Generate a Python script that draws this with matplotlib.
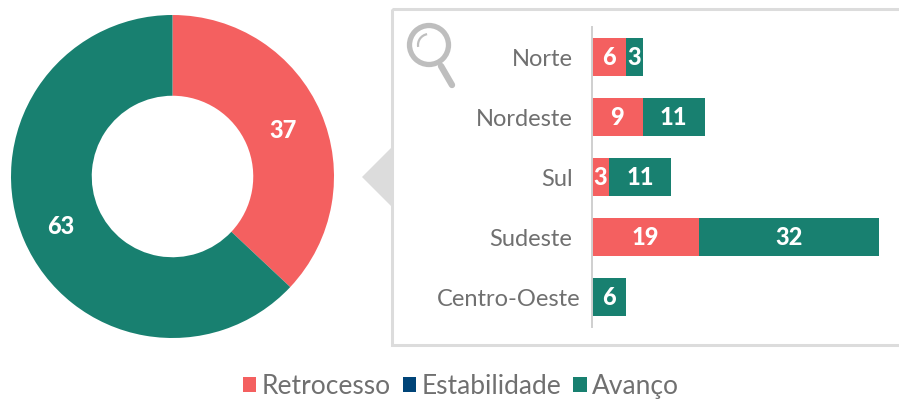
import matplotlib
matplotlib.use("Agg")
import matplotlib.pyplot as plt
from matplotlib.patches import Arc, Circle, Polygon, Rectangle
from matplotlib.lines import Line2D
from matplotlib.transforms import ScaledTranslation

plt.rcParams["font.family"] = ["Lato", "DejaVu Sans"]

RED = "#F46060"
NAVY = "#004478"
GREEN = "#188070"
GRAY = "#707070"
LIGHT = "#DCDCDC"
ICON = "#BEBEBE"

donut_labels = ["Retrocesso", "Avanço"]
donut_values = [37, 63]

regions = ["Norte", "Nordeste", "Sul", "Sudeste", "Centro-Oeste"]
retrocesso = [6, 9, 3, 19, 0]
avanco = [3, 11, 11, 32, 6]

legend_labels = ["Retrocesso", "Estabilidade", "Avanço"]
legend_colors = [RED, NAVY, GREEN]

W, H = 899, 400
fig = plt.figure(figsize=(W / 100, H / 100), dpi=100)


def px_axes(x0, y0, x1, y1):
    return fig.add_axes([x0 / W, 1 - y1 / H, (x1 - x0) / W, (y1 - y0) / H])


# overlay for panel frame and pointer, in pixel coords
bg = fig.add_axes([0, 0, 1, 1])
bg.set_xlim(0, W)
bg.set_ylim(H, 0)
bg.axis("off")
bg.add_patch(Rectangle((391.5, 8.5), 520, 336.5, fill=False, ec=LIGHT, lw=2.2))
bg.add_patch(Polygon([[392, 147], [392, 207], [362, 177]], fc=LIGHT, ec="none"))

# magnifier icon
bg.add_patch(Circle((429, 45), 19.5, fill=False, ec=ICON, lw=3.8))
bg.add_line(Line2D([441, 452], [66, 85], color=ICON, lw=4.6, solid_capstyle="round"))
bg.add_patch(Arc((429, 45), 22, 22, theta1=170, theta2=260, ec=ICON, lw=1.6))

# donut
ax = px_axes(11, 15, 334, 338)
ax.pie(donut_values, colors=[RED, GREEN], startangle=90, counterclock=False,
       radius=1, wedgeprops=dict(width=0.5, linewidth=0))
ax.set_xlim(-1, 1)
ax.set_ylim(-1, 1)
ax.text(0.684, 0.285, str(donut_values[0]), color="white", fontsize=17, fontweight="black",
        ha="center", va="center")
ax.text(-0.69, -0.31, str(donut_values[1]), color="white", fontsize=17, fontweight="black",
        ha="center", va="center")

# stacked bars
bx = px_axes(592, 27, 892, 327)
y = list(range(len(regions)))
bx.barh(y, retrocesso, height=0.63, color=RED, linewidth=0)
bx.barh(y, avanco, left=retrocesso, height=0.63, color=GREEN, linewidth=0)
bx.set_xlim(0, 300 / 5.63)
bx.set_ylim(4.5, -0.5)
bx.set_yticks(y)
bx.set_yticklabels(regions, fontsize=17, color=GRAY)
bx.tick_params(axis="y", length=0, pad=14)
bx.xaxis.set_visible(False)
for s in ["top", "right", "bottom"]:
    bx.spines[s].set_visible(False)
bx.spines["left"].set_color("#CFCFCF")
bx.spines["left"].set_linewidth(1.4)
bx.patch.set_alpha(0)

# Centro-Oeste sits closer to the axis than the other labels
last = bx.get_yticklabels()[-1]
last.set_transform(last.get_transform() + ScaledTranslation(8 / 100, 0, fig.dpi_scale_trans))

for i in y:
    if retrocesso[i]:
        bx.text(retrocesso[i] / 2, i + 0.01, str(retrocesso[i]), color="white", fontsize=17,
                fontweight="black", ha="center", va="center")
    bx.text(retrocesso[i] + avanco[i] / 2, i + 0.01, str(avanco[i]), color="white", fontsize=17,
            fontweight="black", ha="center", va="center")

# legend
handles = [Rectangle((0, 0), 1, 1, fc=c, ec="none") for c in legend_colors]
fig.legend(handles, legend_labels, loc="lower center", bbox_to_anchor=(461 / W, -0.057), ncol=3,
           frameon=False, fontsize=19, labelcolor=GRAY, handlelength=0.5, handleheight=0.5,
           handletextpad=0.22, columnspacing=0.45)

fig.savefig("out.png", dpi=100)
